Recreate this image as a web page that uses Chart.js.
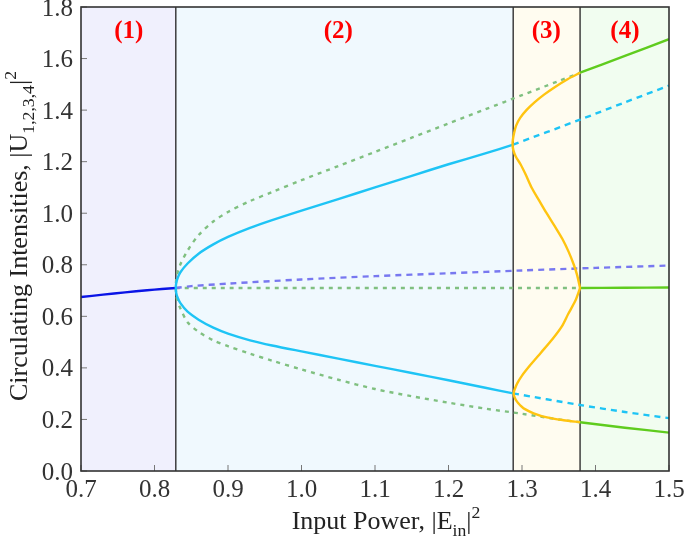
<html>

<head>
    <script type="text/javascript" src="https://cdn.jsdelivr.net/npm/chart.js@4.4.0/dist/chart.umd.min.js"></script>
    <style>
        body { margin: 0; background: #fff; }
        #box { width: 685px; height: 536px; }
    </style>
</head>

<body>
    <div id="box"><canvas id="grafico"></canvas></div>
</body>

</html>

<script type="text/javascript">
    // limites das regioes (1)-(4) no eixo x
    const regioes = [0.7, 0.829, 1.288, 1.379, 1.5];
    const rotulos = ['(1)', '(2)', '(3)', '(4)'];
    const rotuloX = [0.765, 1.05, 1.333, 1.44];
    const rotuloY = 1.705;

    const ticksX = [0.7, 0.8, 0.9, 1.0, 1.1, 1.2, 1.3, 1.4, 1.5];
    const ticksY = [0.0, 0.2, 0.4, 0.6, 0.8, 1.0, 1.2, 1.4, 1.6, 1.8];

    // ramo unico (1)
    const azulX = [0.7, 0.73, 0.76, 0.79, 0.81, 0.829];
    const azulY = [0.675, 0.684, 0.693, 0.701, 0.706, 0.71];

    // ramo instavel tracejado
    const roxoX = [0.829, 0.85, 0.9, 1.0, 1.1, 1.2, 1.3, 1.4, 1.5];
    const roxoY = [0.71, 0.717, 0.727, 0.743, 0.756, 0.767, 0.778, 0.788, 0.797];

    // ciano solido (2)
    const cianoX = [0.829, 0.8295, 0.831, 0.835, 0.845, 0.86, 0.88, 0.9, 0.93, 0.96, 1.0, 1.05, 1.1, 1.15, 1.2, 1.25, 1.288];
    const cianoSupY = [0.71, 0.728, 0.745, 0.77, 0.805, 0.843, 0.879, 0.908, 0.943, 0.973, 1.01, 1.055, 1.1, 1.145, 1.19, 1.232, 1.266];
    const cianoInfY = [0.71, 0.692, 0.676, 0.652, 0.618, 0.587, 0.556, 0.533, 0.507, 0.487, 0.464, 0.436, 0.408, 0.38, 0.352, 0.323, 0.301];

    // ciano tracejado
    const cianoTX = [1.288, 1.379, 1.44, 1.5];
    const cianoTSupY = [1.266, 1.363, 1.43, 1.495];
    const cianoTInfY = [0.301, 0.256, 0.229, 0.205];

    // verde pontilhado
    const verdePX = [0.829, 0.8295, 0.831, 0.835, 0.845, 0.86, 0.88, 0.9, 0.93, 0.96, 1.0, 1.05, 1.1, 1.15, 1.2, 1.25, 1.3, 1.35, 1.379];
    const verdePSupY = [0.71, 0.74, 0.765, 0.8, 0.855, 0.915, 0.968, 1.005, 1.047, 1.082, 1.128, 1.183, 1.238, 1.293, 1.348, 1.403, 1.458, 1.513, 1.545];
    const verdePInfY = [0.71, 0.685, 0.662, 0.632, 0.577, 0.54, 0.507, 0.484, 0.455, 0.428, 0.394, 0.354, 0.318, 0.29, 0.265, 0.242, 0.222, 0.2, 0.189];
    const verdePMeioX = [0.829, 1.379];
    const verdePMeioY = [0.71, 0.71];

    // amarelo (3), de cima para baixo
    const amareloAY = [1.545, 1.52, 1.49, 1.46, 1.43, 1.40, 1.37, 1.34, 1.31, 1.285, 1.266, 1.245, 1.22, 1.19, 1.15, 1.10, 1.05, 1.00, 0.95, 0.90, 0.85, 0.80, 0.76, 0.71];
    const amareloAX = [1.379, 1.362, 1.345, 1.330, 1.317, 1.306, 1.2975, 1.292, 1.2892, 1.2876, 1.2872, 1.2882, 1.2915, 1.298, 1.305, 1.313, 1.3232, 1.3335, 1.3445, 1.355, 1.3635, 1.3705, 1.375, 1.379];
    const amareloBY = [0.71, 0.66, 0.61, 0.56, 0.51, 0.46, 0.41, 0.37, 0.34, 0.32, 0.301, 0.285, 0.269, 0.255, 0.243, 0.224, 0.208, 0.197, 0.189];
    const amareloBX = [1.379, 1.3725, 1.363, 1.354, 1.341, 1.326, 1.311, 1.300, 1.2935, 1.2905, 1.2886, 1.290, 1.2932, 1.2975, 1.3022, 1.3158, 1.334, 1.3566, 1.379];

    // verde solido (4)
    const verdeX = [1.379, 1.44, 1.5];
    const verdeSupY = [1.545, 1.61, 1.675];
    const verdeMeioY = [0.71, 0.711, 0.712];
    const verdeInfY = [0.189, 0.168, 0.149];

    const coresRegiao = ['#f0f0fd', '#f0f9fe', '#fffcf0', '#f1fdf0'];

    function pontos(xs, ys) {
        return xs.map((x, i) => ({ x: x, y: ys[i] }));
    }

    // junta ramo de baixo (invertido) e ramo de cima, passando pelo vertice
    function ramos(xs, sup, inf) {
        let baixo = pontos(xs, inf).reverse();
        return baixo.concat(pontos(xs, sup).slice(1));
    }

    function linha(dados, cor, tracejado) {
        return {
            data: dados,
            showLine: true,
            borderColor: cor,
            borderWidth: 2.4,
            borderDash: tracejado || [],
            pointRadius: 0,
            fill: false,
            tension: 0.3
        };
    }

    const fonteTexto = '"Liberation Serif", serif';

    // escreve texto com subscrito / sobrescrito
    function escreve(ctx, partes, x, y, tam) {
        let larg = 0;
        partes.forEach(p => {
            ctx.font = (p.sub || p.sup ? tam * 0.68 : tam) + 'px ' + fonteTexto;
            larg += ctx.measureText(p.t).width;
        });
        let cx = x - larg / 2;
        partes.forEach(p => {
            let t = p.sub || p.sup ? tam * 0.68 : tam;
            ctx.font = t + 'px ' + fonteTexto;
            let dy = p.sub ? tam * 0.25 : (p.sup ? -tam * 0.42 : 0);
            ctx.fillText(p.t, cx, y + dy);
            cx += ctx.measureText(p.t).width;
        });
    }

    const tituloX = [{ t: 'Input Power, |E' }, { t: 'in', sub: true }, { t: '|' }, { t: '2', sup: true }];
    const tituloY = [{ t: 'Circulating Intensities, |U' }, { t: '1,2,3,4', sub: true }, { t: '|' }, { t: '2', sup: true }];

    const fundo = {
        id: 'fundo',
        beforeDatasetsDraw(chart) {
            const ctx = chart.ctx, sx = chart.scales.x, area = chart.chartArea;
            ctx.save();
            for (let i = 0; i < 4; i++) {
                let a = sx.getPixelForValue(regioes[i]), b = sx.getPixelForValue(regioes[i + 1]);
                ctx.fillStyle = coresRegiao[i];
                ctx.fillRect(a, area.top, b - a, area.bottom - area.top);
            }
            ctx.strokeStyle = '#222';
            ctx.lineWidth = 1.3;
            for (let i = 1; i < 4; i++) {
                let a = sx.getPixelForValue(regioes[i]);
                ctx.beginPath();
                ctx.moveTo(a, area.top);
                ctx.lineTo(a, area.bottom);
                ctx.stroke();
            }
            ctx.restore();
        },
        afterDraw(chart) {
            const ctx = chart.ctx, sx = chart.scales.x, sy = chart.scales.y, area = chart.chartArea;
            ctx.save();
            // ticks para dentro
            ctx.strokeStyle = '#777';
            ctx.lineWidth = 1;
            ticksX.forEach(v => {
                let p = sx.getPixelForValue(v);
                ctx.beginPath(); ctx.moveTo(p, area.bottom); ctx.lineTo(p, area.bottom - 6); ctx.stroke();
            });
            ticksY.forEach(v => {
                let p = sy.getPixelForValue(v);
                ctx.beginPath(); ctx.moveTo(area.left, p); ctx.lineTo(area.left + 6, p); ctx.stroke();
            });
            // moldura
            ctx.strokeStyle = '#333';
            ctx.lineWidth = 1.6;
            ctx.strokeRect(area.left, area.top, area.right - area.left, area.bottom - area.top);
            // rotulos das regioes
            ctx.fillStyle = '#ff0000';
            ctx.font = 'bold 25px ' + fonteTexto;
            ctx.textAlign = 'center';
            ctx.textBaseline = 'middle';
            rotulos.forEach((r, i) => {
                ctx.fillText(r, sx.getPixelForValue(rotuloX[i]), sy.getPixelForValue(rotuloY));
            });
            // titulos dos eixos
            ctx.fillStyle = '#222';
            ctx.textAlign = 'left';
            ctx.textBaseline = 'alphabetic';
            escreve(ctx, tituloX, 386, 529, 26);
            ctx.translate(27, 236);
            ctx.rotate(-Math.PI / 2);
            escreve(ctx, tituloY, 0, 0, 26);
            ctx.restore();
        }
    };

    var ctx = document.getElementById('grafico').getContext('2d');
    var grafico = new Chart(ctx, {
        type: 'scatter',
        data: {
            datasets: [
                linha(pontos(amareloAX, amareloAY), '#ffc410'),
                linha(pontos(amareloBX, amareloBY), '#ffc410'),
                linha(pontos(verdeX, verdeSupY), '#5fcc1e'),
                linha(pontos(verdeX, verdeMeioY), '#5fcc1e'),
                linha(pontos(verdeX, verdeInfY), '#5fcc1e'),
                linha(ramos(cianoX, cianoSupY, cianoInfY), '#1ec4f5'),
                linha(pontos(cianoTX, cianoTSupY), '#1ec4f5', [6, 5]),
                linha(pontos(cianoTX, cianoTInfY), '#1ec4f5', [6, 5]),
                linha(pontos(azulX, azulY), '#0a14e6'),
                linha(pontos(roxoX, roxoY), '#7878f0', [6, 5]),
                linha(ramos(verdePX, verdePSupY, verdePInfY), '#80c080', [4, 5]),
                linha(pontos(verdePMeioX, verdePMeioY), '#80c080', [4, 5])
            ]
        },
        options: {
            responsive: true,
            maintainAspectRatio: false,
            animation: false,
            layout: { autoPadding: false, padding: { top: 7, right: 16, left: 0, bottom: 0 } },
            plugins: { legend: { display: false }, tooltip: { enabled: false } },
            scales: {
                x: {
                    type: 'linear',
                    min: 0.7,
                    max: 1.5,
                    afterBuildTicks: s => { s.ticks = ticksX.map(v => ({ value: v })); },
                    afterFit: s => { s.height = 65; s.paddingLeft = 0; s.paddingRight = 0; },
                    grid: { display: false, tickLength: 0 },
                    border: { display: false },
                    ticks: {
                        padding: 4,
                        color: '#333',
                        font: { family: fonteTexto, size: 25 },
                        callback: v => v.toFixed(1)
                    }
                },
                y: {
                    min: 0,
                    max: 1.8,
                    afterBuildTicks: s => { s.ticks = ticksY.map(v => ({ value: v })); },
                    afterFit: s => { s.width = 81; s.paddingTop = 0; s.paddingBottom = 0; },
                    grid: { display: false, tickLength: 0 },
                    border: { display: false },
                    ticks: {
                        padding: 8,
                        labelOffset: 2,
                        color: '#333',
                        font: { family: fonteTexto, size: 25 },
                        callback: v => v.toFixed(1)
                    }
                }
            }
        },
        plugins: [fundo]
    });
</script>
